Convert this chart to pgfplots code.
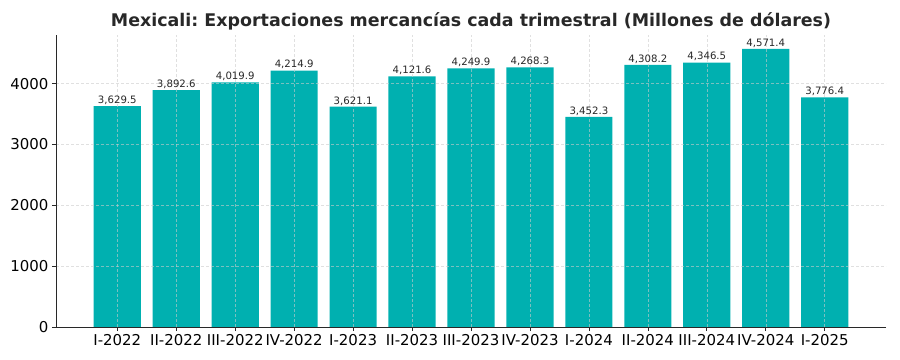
\documentclass[border=0pt]{standalone}
\usepackage{pgfplots}
\pgfplotsset{compat=1.18}
\usepackage{fontspec}
\setmainfont{DejaVu Sans}
\frenchspacing
\definecolor{barc}{RGB}{0,176,176}
\definecolor{axc}{RGB}{40,40,40}
\begin{document}
\begin{tikzpicture}
\useasboundingbox (-56bp,-33bp) rectangle (844bp,327bp);
\begin{axis}[
  scale only axis, width=830bp, height=292bp,
  xmin=-1.04, xmax=13.04, ymin=0, ymax=4800,
  axis x line*=bottom, axis y line*=left,
  axis line style={axc, line width=0.9pt, -},
  xtick={0,...,12},
  xticklabels={I-2022,II-2022,III-2022,IV-2022,I-2023,II-2023,III-2023,IV-2023,I-2024,II-2024,III-2024,IV-2024,I-2025},
  ytick={0,1000,2000,3000,4000},
  yticklabel style={/pgf/number format/1000 sep={}},
  tick label style={font=\fontsize{15}{17}\selectfont, text=black},
  /pgf/number format/assume math mode=true,
  tick align=outside, major tick length=4bp, tick style={axc, line width=0.7pt},
  xmajorgrids, ymajorgrids,
  major grid style={dash pattern=on 3bp off 2bp, gray!40, line width=0.5pt, opacity=0.6},
  axis on top,
  title={\textbf{Mexicali: Exportaciones mercancías cada trimestral (Millones de dólares)}},
  title style={font=\fontsize{17.5}{19}\selectfont, text=axc, yshift=-5bp},
  nodes near coords,
  nodes near coords style={font=\fontsize{10.2}{11}\selectfont, text=axc, /pgf/number format/fixed, /pgf/number format/precision=1, /pgf/number format/fixed zerofill, /pgf/number format/1000 sep={,}, /pgf/number format/assume math mode=true, yshift=-2bp},
]
\addplot[ybar, bar width=0.8, fill=barc, draw=none] coordinates {
(0,3629.5) (1,3892.6) (2,4019.9) (3,4214.9) (4,3621.1) (5,4121.6) (6,4249.9) (7,4268.3) (8,3452.3) (9,4308.2) (10,4346.5) (11,4571.4) (12,3776.4)
};
\end{axis}
\end{tikzpicture}
\end{document}
